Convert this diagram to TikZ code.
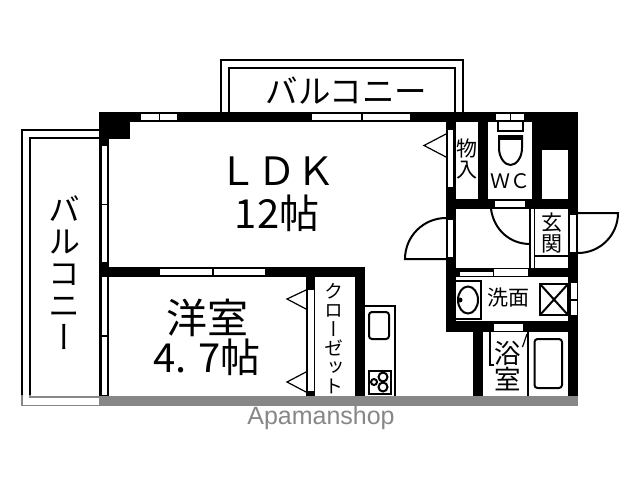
\documentclass[tikz,border=0pt]{standalone}
\usepackage{fontspec}
\setmainfont{Liberation Sans}
\newfontfamily\jp{Noto Sans CJK JP}
\newfontfamily\jpv[RawFeature=+vert]{Noto Sans CJK JP}
\definecolor{band}{gray}{0.53}
\tikzset{
  wall/.style={fill=black, draw=none},
  pane/.style={fill=white, draw=none},
  thin line/.style={line width=1.2pt, draw=black},
  heavy line/.style={line width=2pt, draw=black},
  room/.style={inner sep=0pt, align=center, font=\jp\fontsize{#1}{#1}\selectfont},
  tall/.style={inner sep=0pt, align=center, font=\jpv\fontsize{#1}{#1}\selectfont},
}
\begin{document}
\begin{tikzpicture}[x=1pt,y=-1pt]
      \useasboundingbox (0,0) rectangle (640,480);
      \fill[white] (0,0) rectangle (640,480);
      \draw[heavy line] (221,112) -- (221,60) -- (463,60) -- (463,112);
      \draw[heavy line] (229,112) -- (229,68) -- (455,68) -- (455,112);
      \draw[heavy line] (99,130) -- (22,130) -- (22,396);
      \draw[heavy line] (99,138) -- (30,138) -- (30,396);
      \draw[line width=1.5pt, draw=band] (22,395) -- (22,405.5) -- (99,405.5);
      \draw[line width=1.5pt, draw=band] (30,395) -- (30,397) -- (99,397);
      \fill[band] (99,396) rectangle (578,406);
      \fill[wall] (99,112) rectangle (578,122);
      \fill[wall] (99,112) rectangle (130,139);
      \fill[wall] (99,112) rectangle (109,396);
      \fill[wall] (99,267) rectangle (365,277);
      \fill[wall] (306,267) rectangle (315,396);
      \fill[wall] (355,267) rectangle (365,396);
      \fill[wall] (446,112) rectangle (456,332);
      \fill[wall] (478,112) rectangle (488,209);
      \fill[wall] (532,112) rectangle (542,209);
      \fill[wall] (532,112) rectangle (578,150);
      \fill[wall] (446,199) rectangle (578,209);
      \fill[wall] (568,112) rectangle (578,396);
      \fill[wall] (446,268) rectangle (578,277);
      \fill[wall] (446,321) rectangle (578,332);
      \fill[wall] (473,321) rectangle (483,396);
      \foreach \a/\b in {141/158.5,160/177,312/361,363/410,496/509.5,511/524}
        \fill[pane] (\a,114) rectangle (\b,120);
      \foreach \a/\b in {146/203.5,205/262,277/335,337/395}
        \fill[pane] (101.5,\a) rectangle (107,\b);
      \foreach \a/\b in {160/211.5,213.5/265}
        \fill[pane] (\a,269) rectangle (\b,275);
      \fill[pane] (308,290) rectangle (313.5,391);
      \fill[pane] (447.5,130) rectangle (453,187);
      \fill[pane] (447.5,220) rectangle (453,257);
      \fill[pane] (495,201) rectangle (525,207);
      \fill[pane] (570,215) rectangle (575.5,252);
      \fill[pane] (460,272) rectangle (493,275.5);
      \fill[pane] (494,269) rectangle (528,275.5);
      \fill[pane] (571,283) rectangle (577,299);
      \fill[pane] (571,301) rectangle (577,315);
      \fill[pane] (494,324) rectangle (523,330.5);
      \draw[thin line] (306,290) -- (287,299) -- (306,309);
      \draw[thin line] (306,372) -- (287,382) -- (306,392);
      \draw[thin line] (446,134) -- (424,145.5) -- (446,157);
      \draw[heavy line] (446,259) -- (405,259) arc[start angle=180, end angle=270, radius=41];
      \draw[heavy line] (578,213) -- (618,213) arc[start angle=0, end angle=90, radius=40];
      \draw[heavy line] (491,209) .. controls (494,230) and (510,244) .. (530,244);
      \draw[thin line] (530,209) -- (530,268);
      \draw[thin line] (534.5,209) -- (534.5,268);
      \draw[thin line] (535,256) -- (568,256);
      \draw[heavy line] (365,305.5) -- (395,305.5) -- (395,396);
      \draw[heavy line, rounded corners=3pt] (369,312) rectangle (389,339);
      \draw[heavy line] (368.5,370.5) rectangle (390.5,393.5);
      \draw[heavy line] (383,377) circle (4.5);
      \draw[heavy line] (374,382) circle (3);
      \draw[heavy line] (383,387) circle (4.5);
      \draw[heavy line] (498,122) -- (498,131) -- (523,131) -- (523,122);
      \draw[heavy line] (499,148) -- (499,136) -- (522,136) -- (522,148)
        .. controls (522,158) and (516,165) .. (510.5,165)
        .. controls (505,165) and (499,158) .. (499,148);
      \fill[wall] (499,135) rectangle (522,140);
      \draw[heavy line] (456,281) -- (480.5,281) -- (480.5,319) -- (456,319);
      \draw[heavy line] (468,300) ellipse (10 and 13.5);
      \fill[wall] (460,300) circle (2.5);
      \draw[heavy line] (540,284) rectangle (568,315);
      \draw[heavy line] (540,284) -- (568,315);
      \draw[heavy line] (540,315) -- (568,284);
      \draw[thin line] (490,332) -- (490,365) -- (494,365);
      \draw[thin line] (527,334) -- (522.5,347);
      \draw[thin line] (528,332) -- (528,396);
      \draw[heavy line, rounded corners=3pt] (534.5,339) rectangle (562,388);
      \node[room=32.5] (balconytop) at (346.5,91) {バルコニー};
      \node[tall=32] (balconyleft) at (64,273) {バ\\ル\\コ\\ニ\\ー};
      \node[room=39] (ldk) at (277,171) {ＬＤＫ};
      \node[room=40] (ldksize) at (277,213) {12帖};
      \node[room=41] (western) at (207,318) {洋室};
      \node[room=40] (westernsize) at (207,357) {4. 7帖};
      \node[tall=19] (closet) at (334,339) {ク\\ロ\\ー\\ゼ\\ッ\\ト};
      \node[tall=21] (storage) at (467,159) {物\\入};
      \node[room=20] (wc) at (510,181) {ＷＣ};
      \node[room=21] (entry) at (552,233.5) {玄\\関};
      \node[room=21] (wash) at (508.5,298) {洗面};
      \node[room=26.5] (bath) at (508,366) {浴\\室};
      \node[inner sep=0pt, text=band, font=\fontsize{25}{25}\selectfont] (mark) at (321,418) {Apamanshop};
\end{tikzpicture}
\end{document}
